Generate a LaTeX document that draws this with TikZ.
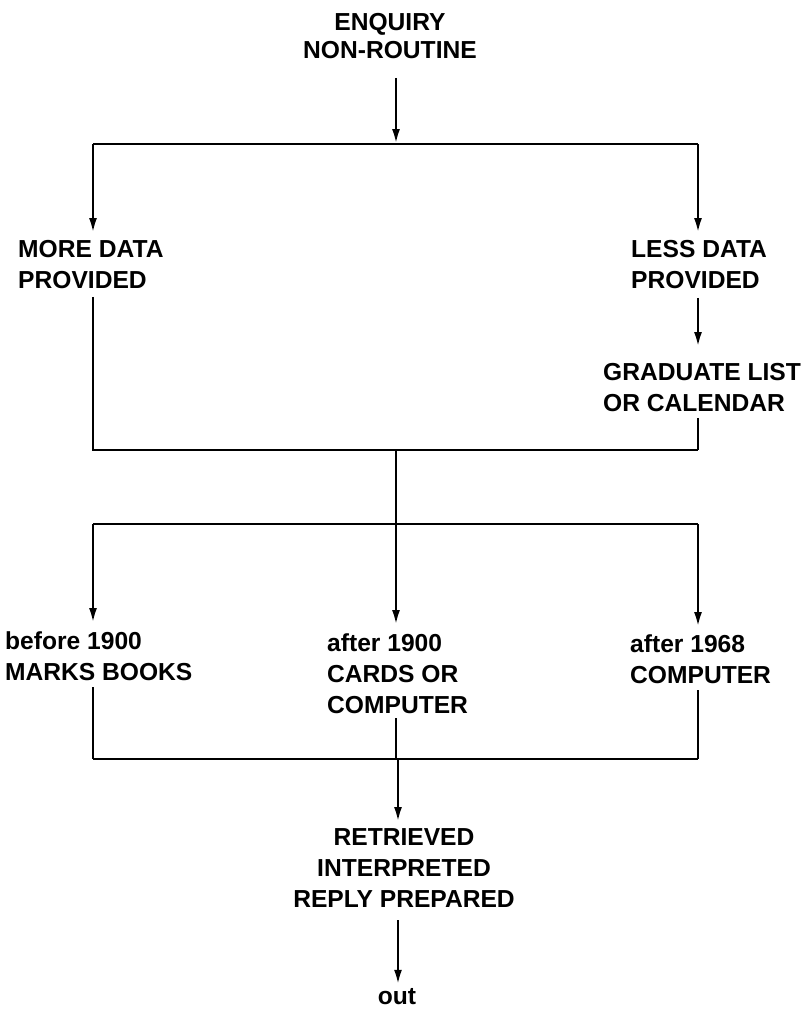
\documentclass[tikz,border=0pt]{standalone}
\usepackage{fontspec}
\setmainfont{Liberation Sans}
\usetikzlibrary{arrows.meta}
\begin{document}
\begin{tikzpicture}[x=1pt,y=-1pt,
  lbl/.style={inner sep=0pt, font=\bfseries\fontsize{24.6}{31}\selectfont, anchor=north west, align=left},
  clbl/.style={lbl, anchor=north, align=center},
  wire/.style={line width=2.6pt},
  arr/.style={wire, -{Latex[length=15pt,width=8pt]}}]
\useasboundingbox (0,0) rectangle (805,1009);
% text nodes
\node[clbl, font=\bfseries\fontsize{24.6}{28}\selectfont] (enq) at (390,13) {ENQUIRY\\NON-ROUTINE};
\node[lbl] (more) at (18,240) {MORE DATA\\PROVIDED};
\node[lbl] (less) at (631,240) {LESS DATA\\PROVIDED};
\node[lbl] (grad) at (603,363) {GRADUATE LIST\\OR CALENDAR};
\node[lbl] (b1900) at (5,631) {before 1900\\MARKS BOOKS};
\node[lbl] (a1900) at (327,633) {after 1900\\CARDS OR\\COMPUTER};
\node[lbl] (a1968) at (630,634) {after 1968\\COMPUTER};
\node[clbl] (ret) at (404,828) {RETRIEVED\\INTERPRETED\\REPLY PREPARED};
\node[lbl, anchor=base] (out) at (397,1004) {out};
% bus junctions
\coordinate (t1) at (93,144);  \coordinate (tc) at (396,144); \coordinate (t2) at (698,144);
\coordinate (m1) at (93,450);  \coordinate (mc) at (396,450); \coordinate (m2) at (698,450);
\coordinate (s1) at (93,524);  \coordinate (sc) at (396,524); \coordinate (s2) at (698,524);
\coordinate (u1) at (93,759);  \coordinate (uc) at (398,759); \coordinate (u2) at (698,759);
% top
\draw[arr, shorten <=19pt] (enq.south -| tc) -- (tc);
\draw[wire] (t1) -- (t2);
\draw[arr, shorten >=7pt] (t1) -- (t1 |- more.north);
\draw[arr, shorten >=7pt] (t2) -- (t2 |- less.north);
\draw[arr, shorten <=9pt, shorten >=16pt] (less.south -| t2) -- (t2 |- grad.north);
% middle join
\draw[wire, shorten <=8pt] (more.south -| m1) -- (m1) -- (m2);
\draw[wire, shorten <=6pt] (grad.south -| m2) -- (m2);
\draw[wire] (mc) -- (sc);
% second split
\draw[wire] (s1) -- (s2);
\draw[arr, shorten >=8pt] (s1) -- (s1 |- b1900.north);
\draw[arr, shorten >=8pt] (sc) -- (sc |- a1900.north);
\draw[arr, shorten >=7pt] (s2) -- (s2 |- a1968.north);
% lower join
\draw[wire, shorten <=7pt] (b1900.south -| u1) -- (u1);
\draw[wire, shorten <=5pt] (a1900.south -| sc) -- (sc |- u1);
\draw[wire, shorten <=7pt] (a1968.south -| u2) -- (u2);
\draw[wire] (u1) -- (u2);
\draw[arr, shorten >=6pt] (uc) -- (uc |- ret.north);
\draw[arr, shorten <=13pt, shorten >=3pt] (ret.south -| uc) -- (out.north -| uc);
\end{tikzpicture}
\end{document}
